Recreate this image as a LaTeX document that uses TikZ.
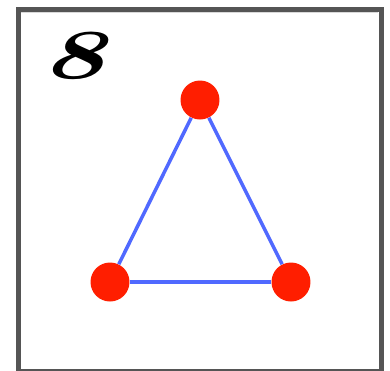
\documentclass[tikz,border=0pt]{standalone}
\usepackage{tikz}
\usepackage{xcolor}
\definecolor{nodered}{RGB}{255,30,0}
\definecolor{edgeblue}{RGB}{80,105,255}
\definecolor{framegray}{RGB}{85,85,85}

\begin{document}
\begin{tikzpicture}[x=0.02cm,y=-0.02cm,
        vertex/.style={circle,fill=nodered,inner sep=0pt,minimum size=0.78cm},
        link/.style={edgeblue,line width=2pt}]
        \useasboundingbox (0,0) rectangle (390,370);
        % frame
        \draw[framegray,line width=2.5pt] (18.5,9.5) rectangle (381.5,371.5);
        \draw[gray!30,line width=1pt] (21.5,12.5) -- (378.5,12.5);
        % digit
        \node[inner sep=0pt,xscale=1.55] (digit) at (74,56) {\fontsize{40}{40}\selectfont\bfseries\itshape 8};
        % triangle
        \node[vertex] (top) at (200,100) {};
        \node[vertex] (left) at (110,282) {};
        \node[vertex] (right) at (291,282) {};
        \draw[link] (top) -- (left);
        \draw[link] (left) -- (right);
        \draw[link] (right) -- (top);
    \end{tikzpicture}
\end{document}
